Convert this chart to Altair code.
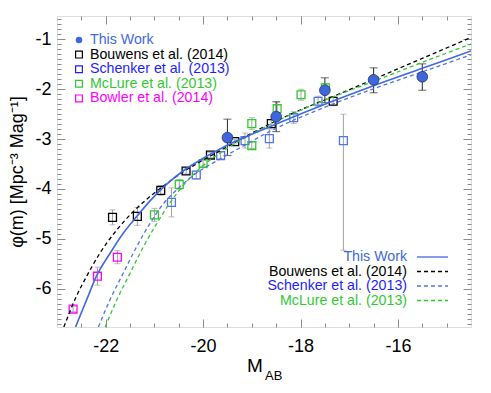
import altair as alt
import pandas as pd
import numpy as np

FONT = "Liberation Sans"

# ---------------- data ----------------
# This Work (filled circles)
tw_M = [-19.5, -18.5, -17.5, -16.5, -15.5]
tw_phi = [-2.97, -2.55, -2.02, -1.81, -1.75]
tw_elo = [0.36, 0.30, 0.25, 0.26, 0.27]
tw_ehi = [0.37, 0.30, 0.25, 0.24, 0.26]

# Bouwens et al. (2014)
bo_M = [-21.86, -21.35, -20.87, -20.35, -19.85, -19.35, -18.60, -17.33]
bo_phi = [-4.57, -4.55, -4.03, -3.64, -3.32, -3.05, -2.69, -2.24]
bo_err = [0.15, 0.18, 0.10, 0.06, 0.05, 0.05, 0.08, 0.09]

# Schenker et al. (2013)
sc_M = [-20.65, -20.14, -19.64, -19.14, -18.64, -18.14, -17.64, -17.12]
sc_phi = [-4.27, -3.72, -3.33, -3.03, -2.99, -2.57, -2.24, -3.03]
sc_elo = [0.29, 0.08, 0.07, 0.15, 0.19, 0.12, 0.10, 2.20]
sc_ehi = [0.29, 0.08, 0.07, 0.15, 0.19, 0.12, 0.10, 0.53]

# McLure et al. (2013)
mc_M = [-21.0, -20.49, -20.0, -19.0, -19.0, -18.48, -17.99, -17.49]
mc_phi = [-4.52, -3.91, -3.49, -2.69, -3.13, -2.39, -2.11, -1.97]
mc_err = [0.13, 0.10, 0.06, 0.12, 0.06, 0.13, 0.11, 0.08]

# Bowler et al. (2014)
bw_M = [-22.67, -22.17, -21.76]
bw_phi = [-6.41, -5.75, -5.37]
bw_err = [0.05, 0.18, 0.13]

# fitted curves
tw_curve_M = [-22.62, -22.39, -22.19, -21.91, -21.64, -21.36, -21.09, -20.74, -20.40,
              -20.06, -19.71, -19.37, -19.02, -18.41, -17.50, -16.50, -15.50, -14.50]
tw_curve_phi = [-6.77, -6.22, -5.75, -5.29, -4.89, -4.55, -4.24, -3.90, -3.63,
                -3.42, -3.23, -3.06, -2.91, -2.66, -2.30, -1.93, -1.58, -1.23]

bo_curve_M = [-22.86, -22.60, -22.39, -22.12, -21.77, -21.43, -21.15, -20.80, -20.40,
              -20.00, -19.50, -19.00, -18.13, -17.17, -16.50, -15.50, -14.50]
bo_curve_phi = [-6.77, -6.15, -5.75, -5.29, -4.82, -4.45, -4.20, -3.93, -3.65,
                -3.42, -3.15, -2.88, -2.47, -2.08, -1.80, -1.38, -0.96]

sc_curve_M = [-22.15, -21.91, -21.64, -21.36, -21.09, -20.81, -20.50, -20.19, -19.71,
              -19.16, -18.68, -17.50, -16.50, -15.50, -14.50]
sc_curve_phi = [-6.77, -6.22, -5.69, -5.15, -4.69, -4.29, -3.98, -3.72, -3.43,
                -3.13, -2.87, -2.36, -1.99, -1.65, -1.31]

mc_curve_M = [-22.01, -21.77, -21.50, -21.22, -20.95, -20.71, -20.50, -20.25, -20.00,
              -19.50, -19.00, -18.34, -17.50, -16.50, -15.50, -14.50]
mc_curve_phi = [-6.77, -6.22, -5.69, -5.15, -4.69, -4.32, -4.04, -3.76, -3.53,
                -3.18, -2.90, -2.57, -2.22, -1.84, -1.46, -1.09]

# axis ticks
x_major = [-22, -20, -18, -16]
x_minor = [round(-23 + 0.5 * i, 1) for i in range(1, 17)]
y_major = [-6, -5, -4, -3, -2, -1]
y_minor = [round(-6.7 + 0.1 * i, 1) for i in range(0, 62)]

X_DOMAIN = [-23.0, -14.5]
Y_DOMAIN = [-6.77, -0.53]

W, H = 414, 311

# colours
C_TW = "#3e66de"
C_TW_LINE = "#4169e1"
C_BO = "#000000"
C_SC = "#5174e6"
C_SC_TXT = "#1e1eff"
C_MC = "#33c833"
C_BW = "#ff00ff"
C_ERR = "#a0a0a0"

LEG_FS = 14.2

xs = alt.Scale(domain=X_DOMAIN, nice=False, zero=False)
ys = alt.Scale(domain=Y_DOMAIN, nice=False, zero=False)


def pts(M, phi, lo, hi, name):
    return pd.DataFrame({
        "M": M, "phi": phi,
        "lo": [p - e for p, e in zip(phi, lo)],
        "hi": [p + e for p, e in zip(phi, hi)],
        "series": name,
    })


df_tw = pts(tw_M, tw_phi, tw_elo, tw_ehi, "This Work")
df_bo = pts(bo_M, bo_phi, bo_err, bo_err, "Bouwens")
df_sc = pts(sc_M, sc_phi, sc_elo, sc_ehi, "Schenker")
df_mc = pts(mc_M, mc_phi, mc_err, mc_err, "McLure")
df_bw = pts(bw_M, bw_phi, bw_err, bw_err, "Bowler")

XE = alt.X("M:Q", scale=xs, axis=None)
YE = alt.Y("phi:Q", scale=ys, axis=None)


def errbars(df, color, cap=6, width=1.0):
    base = alt.Chart(df)
    rule = base.mark_rule(color=color, strokeWidth=width).encode(
        x=XE, y=alt.Y("lo:Q", scale=ys, axis=None), y2="hi:Q")
    t1 = base.mark_tick(color=color, orient="horizontal", size=cap, thickness=width).encode(
        x=XE, y=alt.Y("lo:Q", scale=ys, axis=None))
    t2 = base.mark_tick(color=color, orient="horizontal", size=cap, thickness=width).encode(
        x=XE, y=alt.Y("hi:Q", scale=ys, axis=None))
    return [rule, t1, t2]


def squares(df, color):
    return alt.Chart(df).mark_point(shape="square", size=62, filled=False,
                                    color=color, strokeWidth=1.3, opacity=1).encode(x=XE, y=YE)


def curve(M, phi, color, dash=None, width=1.4):
    df = pd.DataFrame({"M": M, "phi": phi})
    kw = dict(color=color, strokeWidth=width, interpolate="monotone", clip=True)
    if dash:
        kw["strokeDash"] = dash
    return alt.Chart(df).mark_line(**kw).encode(x=XE, y=YE)


def txt(s, x, y, color, align="left", size=LEG_FS):
    return alt.Chart(pd.DataFrame({"t": [s]})).mark_text(
        align=align, baseline="middle", fontSize=size, font=FONT, color=color
    ).encode(x=alt.value(x), y=alt.value(y), text="t:N")


# ---- axis carriers (inward ticks on all four sides) ----
carrier_df = pd.DataFrame({"M": [-20.0], "phi": [-3.0]})
LBL = "datum.value + ''"


def carrier(xaxis, yaxis):
    return alt.Chart(carrier_df).mark_point(opacity=0).encode(
        x=alt.X("M:Q", scale=xs, axis=xaxis),
        y=alt.Y("phi:Q", scale=ys, axis=yaxis))


tick_common = dict(labels=False, domain=False, grid=False, title=None,
                   tickColor="#8c8c8c", tickWidth=1)

lab_layer = carrier(
    alt.Axis(orient="bottom", values=x_major, ticks=False, tickSize=0, domain=False,
             grid=False, labelPadding=10, labelFontSize=18, labelFont=FONT,
             labelColor="black", labelExpr=LBL, title=None),
    alt.Axis(orient="left", values=y_major, ticks=False, tickSize=0, domain=False,
             grid=False, labelPadding=6, labelFontSize=18, labelFont=FONT,
             labelColor="black", labelExpr=LBL,
             title="φ(m) [Mpc⁻³ Mag⁻¹]", titleFont=FONT, titleFontSize=18,
             titleFontWeight="normal", titleColor="black", titlePadding=8),
)
maj_bl = carrier(
    alt.Axis(orient="bottom", values=x_major, offset=-8, tickSize=8, **tick_common),
    alt.Axis(orient="left", values=y_major, offset=-8, tickSize=8, **tick_common),
)
min_bl = carrier(
    alt.Axis(orient="bottom", values=x_minor, offset=-4, tickSize=4, **tick_common),
    alt.Axis(orient="left", values=y_minor, offset=-4, tickSize=4, **tick_common),
)
maj_tr = carrier(
    alt.Axis(orient="top", values=x_major, offset=-8, tickSize=8, **tick_common),
    alt.Axis(orient="right", values=y_major, offset=-8, tickSize=8, **tick_common),
)
min_tr = carrier(
    alt.Axis(orient="top", values=x_minor, offset=-4, tickSize=4, **tick_common),
    alt.Axis(orient="right", values=y_minor, offset=-4, tickSize=4, **tick_common),
)

layers = [lab_layer, maj_bl, min_bl, maj_tr, min_tr]

# error bars
layers += errbars(df_bo, C_ERR)
layers += errbars(df_sc, C_ERR)
layers += errbars(df_mc, C_ERR)
layers += errbars(df_bw, C_ERR)
layers += errbars(df_tw, "#3a3a3a", cap=8, width=1.1)

# literature squares
layers += [squares(df_bo, C_BO), squares(df_sc, C_SC), squares(df_mc, C_MC), squares(df_bw, C_BW)]

# curves
layers += [
    curve(bo_curve_M, bo_curve_phi, C_BO, dash=[4, 3], width=1.3),
    curve(mc_curve_M, mc_curve_phi, C_MC, dash=[4, 3], width=1.3),
    curve(sc_curve_M, sc_curve_phi, C_SC, dash=[4, 3], width=1.3),
    curve(tw_curve_M, tw_curve_phi, C_TW_LINE, width=1.6),
]

# This work circles
layers.append(
    alt.Chart(df_tw).mark_circle(size=115, color=C_TW, opacity=1, stroke="#26305a",
                                 strokeWidth=0.8).encode(x=XE, y=YE)
)

# ---- upper-left legend ----
leg_rows = [24, 38.6, 53.2, 67.8, 82.4]
leg_x_mark, leg_x_text = 22, 33
layers.append(alt.Chart(pd.DataFrame({"a": [0]})).mark_circle(size=42, color=C_TW, opacity=1).encode(
    x=alt.value(leg_x_mark), y=alt.value(leg_rows[0])))
for row, col in zip(leg_rows[1:], [C_BO, C_SC_TXT, C_MC, C_BW]):
    layers.append(alt.Chart(pd.DataFrame({"a": [0]})).mark_point(
        shape="square", size=46, filled=False, color=col, strokeWidth=1.2, opacity=1).encode(
        x=alt.value(leg_x_mark), y=alt.value(row)))
leg_labels = ["This Work", "Bouwens et al. (2014)", "Schenker et al. (2013)",
              "McLure et al. (2013)", "Bowler et al. (2014)"]
leg_cols = [C_TW_LINE, C_BO, C_SC_TXT, C_MC, C_BW]
for lab, row, col in zip(leg_labels, leg_rows, leg_cols):
    layers.append(txt(lab, leg_x_text, row, col))

# ---- lower-right legend ----
lr_rows = [241, 255.5, 270, 284.5]
lr_labels = ["This Work", "Bouwens et al. (2014)", "Schenker et al. (2013)", "McLure et al. (2013)"]
lr_cols = [C_TW_LINE, C_BO, C_SC_TXT, C_MC]
lr_line_cols = [C_TW_LINE, C_BO, C_SC, C_MC]
for i, (lab, row, col, lcol) in enumerate(zip(lr_labels, lr_rows, lr_cols, lr_line_cols)):
    layers.append(txt(lab, 350, row, col, align="right"))
    kw = dict(color=lcol, strokeWidth=1.3)
    if i > 0:
        kw["strokeDash"] = [4, 3]
    layers.append(alt.Chart(pd.DataFrame({"a": [0]})).mark_rule(**kw).encode(
        x=alt.value(360), x2=alt.value(391), y=alt.value(row)))

# ---- x title: M with subscript AB ----
layers.append(txt("M", 198, 350, "black", align="center", size=19))
layers.append(txt("AB", 208, 360, "black", align="left", size=13))

chart = alt.layer(*layers).resolve_axis(x="independent", y="independent").properties(
    width=W, height=H,
    autosize=alt.AutoSizeParams(type="none"),
    padding={"left": 49, "top": 8, "right": 12, "bottom": 58},
).configure_view(stroke="#8c8c8c", strokeWidth=1).configure(background="white")

chart.save("out.html", embed_options={"renderer": "svg", "actions": False})
